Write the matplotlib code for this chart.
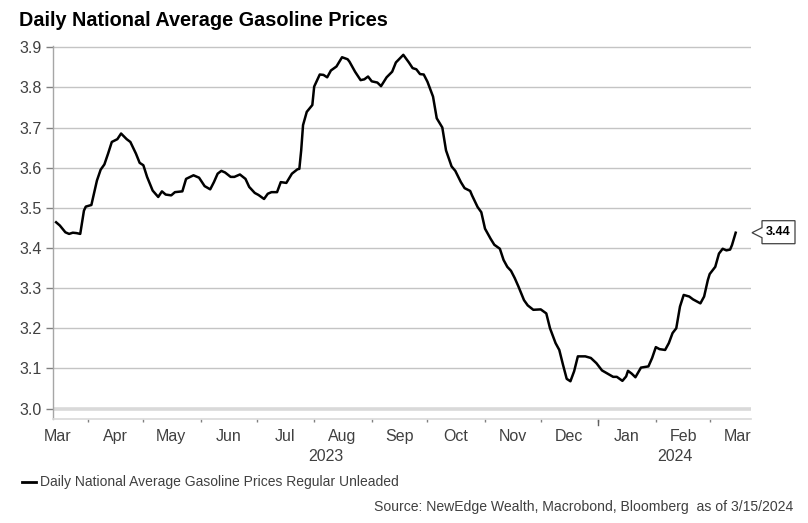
import matplotlib
matplotlib.use("Agg")
import matplotlib.pyplot as plt
import matplotlib.dates as mdates
from matplotlib.patches import Polygon
from matplotlib.lines import Line2D
import pandas as pd

plt.rcParams['font.family'] = ['Liberation Sans', 'DejaVu Sans']

# valores (preco medio diario, US$/galao)
datas = ['2023-03-15', '2023-03-17', '2023-03-20', '2023-03-22', '2023-03-24', '2023-03-26',
         '2023-03-28', '2023-03-30', '2023-03-31', '2023-04-03', '2023-04-06', '2023-04-08',
         '2023-04-10', '2023-04-12', '2023-04-14', '2023-04-17', '2023-04-19', '2023-04-22',
         '2023-04-24', '2023-04-27', '2023-04-29', '2023-05-01', '2023-05-03', '2023-05-06',
         '2023-05-09', '2023-05-11', '2023-05-13', '2023-05-16', '2023-05-18', '2023-05-22',
         '2023-05-24', '2023-05-28', '2023-05-31', '2023-06-03', '2023-06-06', '2023-06-08',
         '2023-06-10', '2023-06-12', '2023-06-14', '2023-06-17', '2023-06-19', '2023-06-22',
         '2023-06-25', '2023-06-27', '2023-06-30', '2023-07-02', '2023-07-05', '2023-07-07',
         '2023-07-09', '2023-07-12', '2023-07-14', '2023-07-17', '2023-07-20', '2023-07-23',
         '2023-07-24', '2023-07-25', '2023-07-26', '2023-07-28', '2023-07-31', '2023-08-01',
         '2023-08-04', '2023-08-06', '2023-08-08', '2023-08-10', '2023-08-13', '2023-08-16',
         '2023-08-19', '2023-08-20', '2023-08-23', '2023-08-26', '2023-08-28', '2023-08-30',
         '2023-09-01', '2023-09-04', '2023-09-06', '2023-09-09', '2023-09-12', '2023-09-14',
         '2023-09-18', '2023-09-21', '2023-09-23', '2023-09-25', '2023-09-27', '2023-09-29',
         '2023-10-01', '2023-10-04', '2023-10-06', '2023-10-09', '2023-10-11', '2023-10-14',
         '2023-10-16', '2023-10-19', '2023-10-21', '2023-10-24', '2023-10-25', '2023-10-28',
         '2023-10-30', '2023-11-01', '2023-11-04', '2023-11-06', '2023-11-09', '2023-11-11',
         '2023-11-13', '2023-11-15', '2023-11-17', '2023-11-19', '2023-11-22', '2023-11-24',
         '2023-11-27', '2023-12-01', '2023-12-04', '2023-12-06', '2023-12-09', '2023-12-11',
         '2023-12-13', '2023-12-15', '2023-12-17', '2023-12-19', '2023-12-21', '2023-12-25',
         '2023-12-28', '2023-12-31', '2024-01-03', '2024-01-06', '2024-01-09', '2024-01-11',
         '2024-01-14', '2024-01-16', '2024-01-17', '2024-01-19', '2024-01-21', '2024-01-24',
         '2024-01-28', '2024-01-30', '2024-02-01', '2024-02-03', '2024-02-06', '2024-02-08',
         '2024-02-10', '2024-02-12', '2024-02-14', '2024-02-16', '2024-02-19', '2024-02-21',
         '2024-02-25', '2024-02-27', '2024-02-29', '2024-03-01', '2024-03-04', '2024-03-06',
         '2024-03-08', '2024-03-10', '2024-03-12', '2024-03-13', '2024-03-15']
precos = [3.464, 3.456, 3.439, 3.435, 3.438, 3.437,
          3.435, 3.493, 3.503, 3.507, 3.568, 3.595,
          3.608, 3.635, 3.664, 3.671, 3.685, 3.671,
          3.664, 3.635, 3.612, 3.606, 3.577, 3.543,
          3.527, 3.541, 3.533, 3.531, 3.539, 3.541,
          3.572, 3.581, 3.575, 3.554, 3.546, 3.564,
          3.585, 3.592, 3.588, 3.577, 3.577, 3.583,
          3.572, 3.552, 3.537, 3.532, 3.522, 3.535,
          3.539, 3.539, 3.564, 3.562, 3.585, 3.596,
          3.597, 3.643, 3.706, 3.739, 3.756, 3.802,
          3.832, 3.831, 3.825, 3.842, 3.852, 3.875,
          3.870, 3.864, 3.839, 3.818, 3.820, 3.827,
          3.815, 3.812, 3.803, 3.825, 3.839, 3.862,
          3.881, 3.862, 3.848, 3.845, 3.833, 3.832,
          3.814, 3.777, 3.723, 3.700, 3.643, 3.603,
          3.592, 3.564, 3.549, 3.542, 3.531, 3.502,
          3.489, 3.448, 3.423, 3.408, 3.398, 3.370,
          3.353, 3.343, 3.325, 3.304, 3.270, 3.257,
          3.246, 3.247, 3.237, 3.200, 3.163, 3.146,
          3.109, 3.074, 3.068, 3.093, 3.130, 3.130,
          3.126, 3.113, 3.095, 3.087, 3.079, 3.079,
          3.069, 3.080, 3.094, 3.087, 3.078, 3.102,
          3.105, 3.126, 3.153, 3.148, 3.146, 3.163,
          3.188, 3.200, 3.254, 3.283, 3.279, 3.272,
          3.262, 3.279, 3.320, 3.335, 3.353, 3.386,
          3.398, 3.394, 3.396, 3.407, 3.438]

meses = ['Mar', 'Apr', 'May', 'Jun', 'Jul', 'Aug', 'Sep', 'Oct', 'Nov', 'Dec', 'Jan', 'Feb', 'Mar']
pos_meses = ['2023-03-16', '2023-04-16', '2023-05-16', '2023-06-16', '2023-07-16', '2023-08-16',
             '2023-09-16', '2023-10-16', '2023-11-16', '2023-12-16', '2024-01-16', '2024-02-16',
             '2024-03-16']
anos = ['2023', '2024']
y_ticks = [3.0, 3.1, 3.2, 3.3, 3.4, 3.5, 3.6, 3.7, 3.8, 3.9]

titulo = 'Daily National Average Gasoline Prices'
legenda = 'Daily National Average Gasoline Prices Regular Unleaded'
fonte = 'Source: NewEdge Wealth, Macrobond, Bloomberg  as of 3/15/2024'

x = pd.to_datetime(datas)
x_ini = pd.Timestamp('2023-03-13 08:00')
x_fim = pd.Timestamp('2024-03-23 06:00')
virada = pd.Timestamp('2024-01-01')

W, H = 808, 523
fig = plt.figure(figsize=(W / 100, H / 100), dpi=100)
ax = fig.add_axes([53 / W, 1 - 419 / H, (751 - 53) / W, (419 - 46) / H])

cinza_txt = '#404040'

for v in y_ticks:
    if v == 3.0:
        ax.axhline(v, color='#d9d9d9', lw=2.6, zorder=1)
    else:
        ax.axhline(v, color='#c4c4c4', lw=1.0, zorder=1)

ax.plot(x, precos, color='black', lw=1.8, zorder=3, solid_joinstyle='round')

ax.set_xlim(x_ini, x_fim)
ax.set_ylim(2.974, 3.903)

for s in ['top', 'right']:
    ax.spines[s].set_visible(False)
ax.spines['left'].set_color('#a6a6a6')
ax.spines['left'].set_linewidth(1.0)
ax.spines['bottom'].set_color('#d9d9d9')
ax.spines['bottom'].set_linewidth(1.2)

ax.set_yticks(y_ticks)
ax.set_yticklabels([f'{v:.1f}' for v in y_ticks])
ax.tick_params(axis='y', length=5, width=1, color='#808080', labelsize=11.5,
               labelcolor=cinza_txt, pad=3)

# meses no meio do mes, marcas no inicio do mes
ax.set_xticks(pd.to_datetime(pos_meses))
ax.set_xticklabels(meses)
ax.tick_params(axis='x', which='major', length=0, labelsize=11.5, labelcolor=cinza_txt, pad=7.5)
ax.xaxis.set_minor_locator(mdates.MonthLocator())
ax.tick_params(axis='x', which='minor', length=2.5, width=1, color='#808080')
ax.plot([virada, virada], [0, -0.016], transform=ax.get_xaxis_transform(),
        color='#606060', lw=1, clip_on=False)

# anos centralizados em cada trecho
trans = ax.get_xaxis_transform()
meio_23 = x_ini + (virada - x_ini) / 2
meio_24 = virada + (x_fim - virada) / 2
ax.text(meio_23, -0.081, anos[0], transform=trans, ha='center', va='top',
        fontsize=11.5, color=cinza_txt)
ax.text(meio_24, -0.081, anos[1], transform=trans, ha='center', va='top',
        fontsize=11.5, color=cinza_txt)

# caixinha com o ultimo valor
fig.canvas.draw()
tx, ty = ax.transData.transform((mdates.date2num(x_fim), precos[-1]))
tx = tx + 1
pts = [(tx, ty), (tx + 10, ty + 5), (tx + 10, ty + 12), (tx + 43, ty + 12),
       (tx + 43, ty - 11), (tx + 10, ty - 11), (tx + 10, ty - 5)]
caixa = Polygon(pts, closed=True, transform=None, facecolor='white', edgecolor='#404040',
                lw=0.9, clip_on=False)
fig.add_artist(caixa)
px, py = fig.transFigure.inverted().transform((tx + 26.5, ty + 0.5))
fig.text(px, py, f'{precos[-1]:.2f}', ha='center', va='center', fontsize=9,
         fontweight='bold', color='black')

fig.text(19 / W, 1 - 20 / H, titulo, ha='left', va='center', fontsize=14.3,
         fontweight='bold', color='black')

fig.add_artist(Line2D([22 / W, 36 / W], [1 - 482 / H, 1 - 482 / H], color='black', lw=2))
fig.text(40 / W, 1 - 482 / H, legenda, ha='left', va='center', fontsize=10, color=cinza_txt)
fig.text(793 / W, 1 - 507 / H, fonte, ha='right', va='center', fontsize=10.1, color=cinza_txt)

fig.savefig('out.png', dpi=100)
